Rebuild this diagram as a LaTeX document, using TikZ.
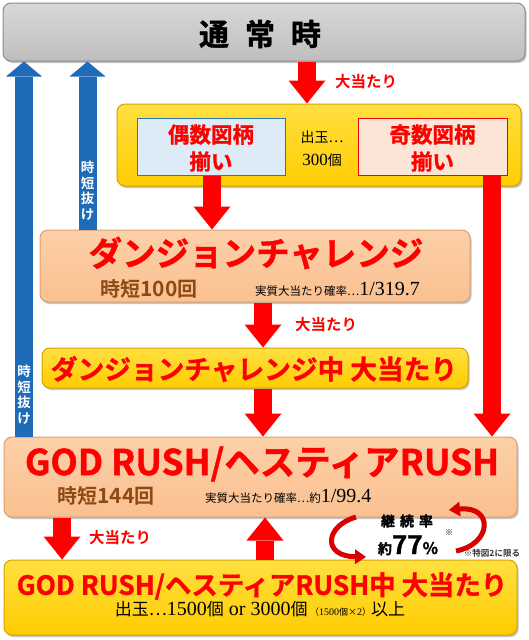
\documentclass[tikz,border=0pt]{standalone}
\usepackage{fontspec}
\setmainfont{Liberation Serif}
\newfontfamily\jpb{Noto Sans CJK JP Bold}
\newfontfamily\jph{Noto Sans CJK JP Bold}[FakeBold=1.2]
\newfontfamily\jpr{Noto Sans CJK JP}
\usetikzlibrary{arrows.meta,shadows,calc}
\definecolor{rd}{HTML}{FF0000}
\definecolor{rdd}{HTML}{D80000}
\definecolor{bl}{HTML}{1E6BB8}
\definecolor{yl}{HTML}{FFCC00}
\definecolor{ylt}{HTML}{FFE040}
\definecolor{ylb}{HTML}{D4A200}
\definecolor{pc}{HTML}{FAC090}
\definecolor{pct}{HTML}{FCD0A8}
\definecolor{pcb}{HTML}{D8A070}
\definecolor{grt}{HTML}{D8D8D8}
\definecolor{grm}{HTML}{BEBEBE}
\definecolor{grb}{HTML}{8C8C8C}
\definecolor{brn}{HTML}{8E4A14}
\definecolor{lb}{HTML}{DDEBF7}
\definecolor{lbb}{HTML}{2E75B6}
\definecolor{lp}{HTML}{FCE4D6}
\tikzset{
  box/.style={rounded corners=8pt, line width=1pt, inner sep=0pt,
    drop shadow={opacity=0.45, shadow xshift=1.5pt, shadow yshift=-2pt}},
  graybox/.style={box, draw=grb, top color=grt, bottom color=grm},
  yellowbox/.style={box, draw=ylb, top color=ylt, bottom color=yl},
  peachbox/.style={box, draw=pcb, top color=pct, bottom color=pc},
  bluecard/.style={draw=lbb, fill=lb, line width=1pt, inner sep=0pt},
  pinkcard/.style={draw=rd, fill=lp, line width=1pt, inner sep=0pt},
  redarr/.style={draw=rd, line width=18pt,
    -{Triangle[width=37pt,length=23pt,line width=0pt]}},
  bluearr/.style={draw=bl, line width=18pt,
    -{Triangle[width=36pt,length=15pt,line width=0pt]}},
  curvarr/.style={draw=rdd, line width=5pt,
    -{Triangle[width=15pt,length=11pt,line width=0pt]}},
  redtitle/.style={text=rd, inner sep=0pt},
  hitlabel/.style={text=rd, font=\jpb\fontsize{15.5}{15.5}\selectfont, inner sep=0pt},
  vlabel/.style={text=white, align=center, inner sep=0pt,
    font=\jpb\fontsize{13.5}{15.5}\selectfont},
  brntext/.style={text=brn, font=\jpb\fontsize{20}{20}\selectfont, inner sep=0pt},
  serifsmall/.style={text=black, inner sep=0pt},
}
\begin{document}
\begin{tikzpicture}[x=1pt,y=-1pt]
\useasboundingbox (0,0) rectangle (529,640);
\fill[white] (0,0) rectangle (529,640);

% boxes
\node[graybox, minimum width=522pt, minimum height=58pt] (tsujo) at (264,32) {};
\node[yellowbox, minimum width=404pt, minimum height=82pt] (dehai) at (319,145) {};
\node[bluecard, minimum width=148pt, minimum height=57pt] (gubox) at (211,146.5) {};
\node[pinkcard, minimum width=149pt, minimum height=57pt] (kibox) at (432.5,146.5) {};
\node[peachbox, minimum width=430pt, minimum height=72pt] (dungeon) at (255,266) {};
\node[yellowbox, minimum width=426pt, minimum height=40pt] (dchu) at (255,368) {};
\node[peachbox, minimum width=513pt, minimum height=80pt] (god) at (260.5,477) {};
\node[yellowbox, minimum width=513pt, minimum height=75pt] (godchu) at (260.5,597.5) {};

% texts
\node[inner sep=0pt, font=\jph\fontsize{30}{30}\selectfont] (tsujoT) at (260,34)
  {通\hspace{16pt}常\hspace{16pt}時};
\node[redtitle, align=center, font=\jph\fontsize{21.5}{27}\selectfont] (guT) at (211,148) {偶数図柄\\揃い};
\node[redtitle, align=center, font=\jph\fontsize{21.5}{27}\selectfont] (kiT) at (432.5,148) {奇数図柄\\揃い};
\node[serifsmall, align=center, font=\jpr\fontsize{14}{23}\selectfont] (dehaiT) at (322,149)
  {出玉…\\{\rmfamily\fontsize{17}{23}\selectfont 300}個};
\node[redtitle, font=\jph\fontsize{33.5}{33.5}\selectfont] (dungeonT) at (256,253) {ダンジョンチャレンジ};
\node[brntext] (dungeonS) at (149,289) {時短{\fontsize{21}{21}\selectfont 100}回};
\node[serifsmall, anchor=base west] (dungeonP) at (255,295)
  {{\jpr\fontsize{11.5}{12}\selectfont 実質大当たり確率…}{\fontsize{20}{20}\selectfont 1/319.7}};
\node[redtitle, font=\jph\fontsize{26.7}{27}\selectfont] (dchuT) at (254,369) {ダンジョンチャレンジ中 大当たり};
\node[redtitle, font=\jph\fontsize{35.5}{35.5}\selectfont] (godT) at (262,464) {GOD RUSH/ヘスティアRUSH};
\node[brntext] (godS) at (106,496) {時短{\fontsize{21}{21}\selectfont 144}回};
\node[serifsmall, anchor=base west] (godP) at (205,502)
  {{\jpr\fontsize{11.5}{12}\selectfont 実質大当たり確率…約}{\fontsize{20}{20}\selectfont 1/99.4}};
\node[redtitle, font=\jph\fontsize{26.4}{27}\selectfont] (godchuT) at (262,586) {GOD RUSH/ヘスティアRUSH中 大当たり};
\node[serifsmall, anchor=base] (godchuS) at (260,615)
  {{\jpr\fontsize{17}{17}\selectfont 出玉…}{\fontsize{20}{20}\selectfont 1500}{\jpr\fontsize{17}{17}\selectfont 個}{\fontsize{20}{20}\selectfont\ or 3000}{\jpr\fontsize{17}{17}\selectfont 個}\ {\jpr\fontsize{9}{9}\selectfont （}{\fontsize{10}{10}\selectfont 1500}{\jpr\fontsize{9}{9}\selectfont 個×}{\fontsize{10}{10}\selectfont 2}{\jpr\fontsize{9}{9}\selectfont ）}{\jpr\fontsize{17}{17}\selectfont 以上}};

% continuation rate
\node[inner sep=0pt, font=\jph\fontsize{14}{14}\selectfont] (rateA) at (407,521) {継\hspace{5pt}続\hspace{5pt}率};
\node[inner sep=0pt, anchor=base] (rateB) at (408,554)
  {{\jph\fontsize{14}{14}\selectfont 約}{\jph\fontsize{26}{26}\selectfont 77}{\jph\fontsize{16}{16}\selectfont \%}};
\node[inner sep=0pt, font=\jpr\fontsize{8}{8}\selectfont] (rateN) at (449,533) {※};
\node[inner sep=0pt, font=\jpb\fontsize{8.5}{8.5}\selectfont, text=black!80] (rateL) at (492,553) {※特図2に限る};

% blue arrows
\coordinate (xb1) at (24,0);
\coordinate (xb2) at (87.5,0);
\draw[bluearr] (god.north -| xb1) -- (tsujo.south -| xb1);
\draw[bluearr] (dungeon.north -| xb2) -- (tsujo.south -| xb2);
\node[vlabel] (nuke1) at (24,395) {時\\短\\抜\\け};
\node[vlabel] (nuke2) at (87.5,191) {時\\短\\抜\\け};

% red arrows
\coordinate (xa1) at (307,0);
\coordinate (xa2) at (212,0);
\coordinate (xa3) at (492,0);
\coordinate (xa4) at (263,0);
\coordinate (xa6) at (62,0);
\coordinate (xa7) at (265,0);
\draw[redarr] (tsujo.south -| xa1) -- (dehai.north -| xa1);
\draw[redarr] (gubox.south -| xa2) -- (dungeon.north -| xa2);
\draw[redarr] (kibox.south -| xa3) -- (god.north -| xa3);
\draw[redarr] (dungeon.south -| xa4) -- (dchu.north -| xa4);
\draw[redarr] (dchu.south -| xa4) -- (god.north -| xa4);
\draw[redarr] (god.south -| xa6) -- (godchu.north -| xa6);
\draw[redarr] (godchu.north -| xa7) -- (god.south -| xa7);

\node[hitlabel] (hit1) at (366,82) {大当たり};
\node[hitlabel] (hit2) at (326,325) {大当たり};
\node[hitlabel] (hit3) at (120,538) {大当たり};

% curved arrows
\coordinate (c1s) at (356,517);
\coordinate (c1e) at (366,557);
\coordinate (c2s) at (456,551);
\coordinate (c2e) at (449,510);
\draw[curvarr] (c1s) .. controls (325,526) and (322,556) .. (c1e);
\draw[curvarr] (c2s) .. controls (492,544) and (494,506) .. (c2e);
\end{tikzpicture}
\end{document}
